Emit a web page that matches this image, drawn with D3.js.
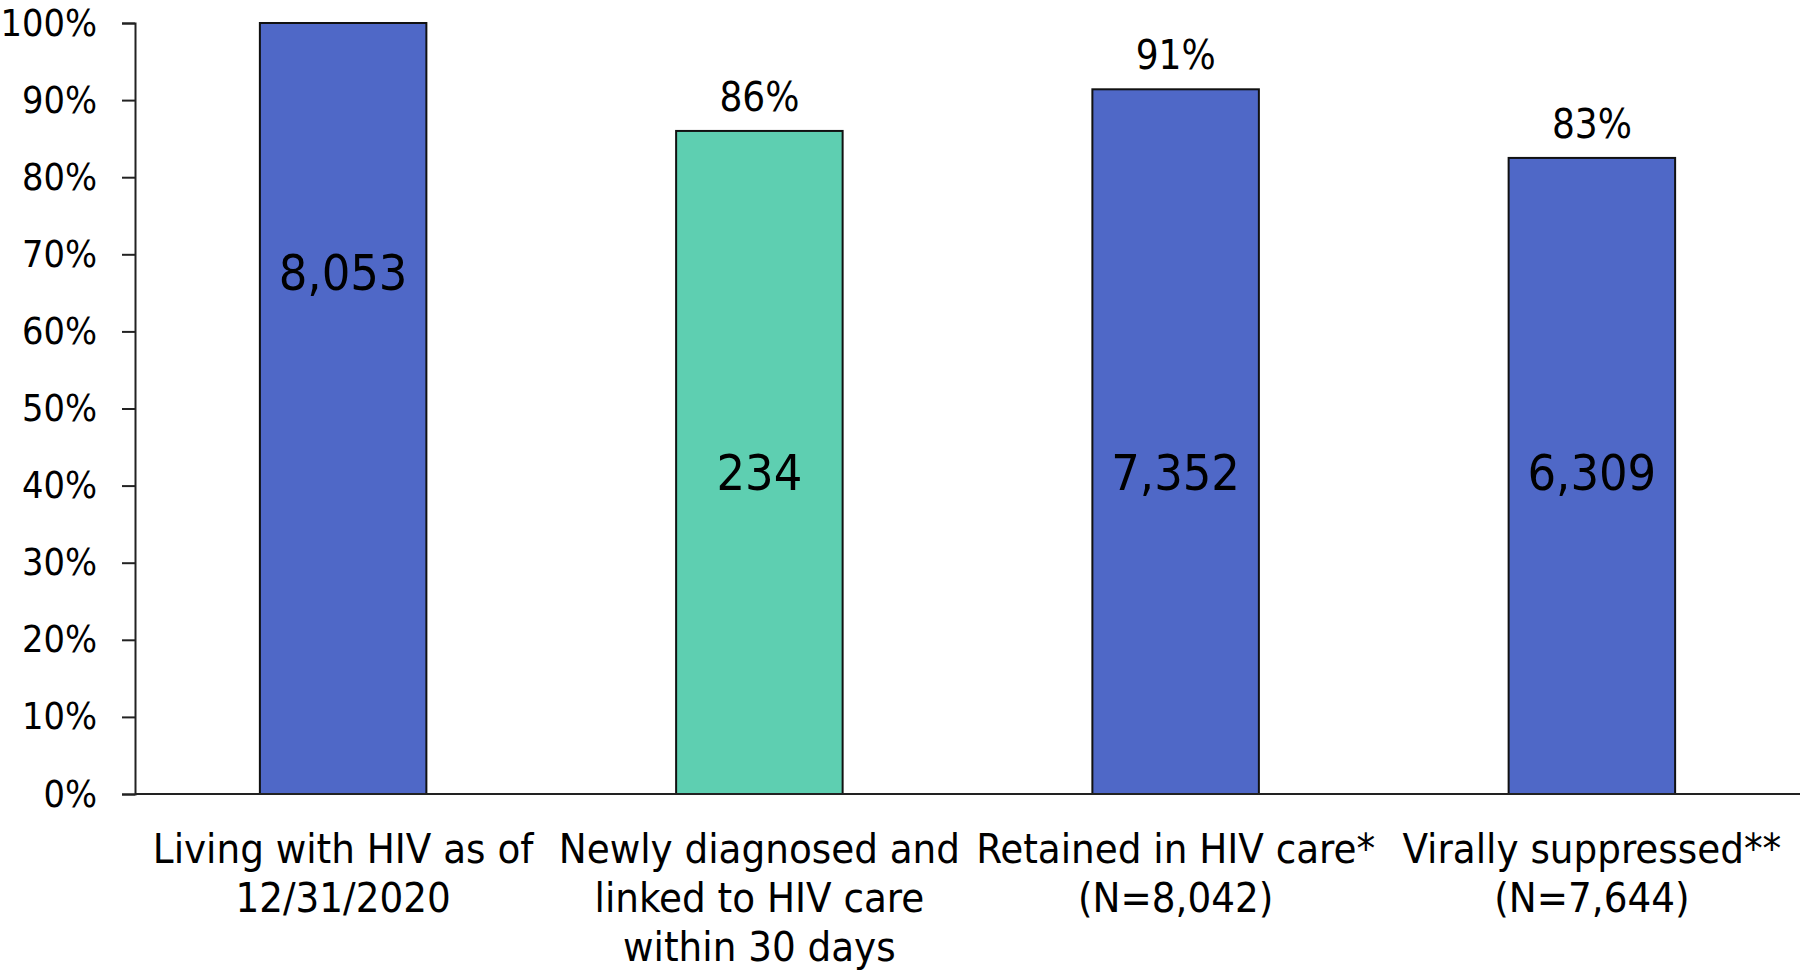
<!DOCTYPE html>
<html>
<head>
<meta charset="utf-8">
<script src="https://cdn.jsdelivr.net/npm/d3@7"></script>
<style>
  html, body { margin: 0; padding: 0; background: #ffffff; }
  svg { display: block; font-family: "DejaVu Sans Condensed", "DejaVu Sans", sans-serif; }
</style>
</head>
<body>
<svg id="chart" width="1800" height="972"></svg>
<script>
// ---- data ----
const categories = ["living", "linked", "retained", "suppressed"];
const categoryLabels = [
  ["Living with HIV as of", "12/31/2020"],
  ["Newly diagnosed and", "linked to HIV care", "within 30 days"],
  ["Retained in HIV care*", "(N=8,042)"],
  ["Virally suppressed**", "(N=7,644)"]
];
const percentValues = [1.00, 0.86, 0.914, 0.825];
const percentLabels = ["", "86%", "91%", "83%"];
const countLabels = ["8,053", "234", "7,352", "6,309"];
const barColors = ["#4F68C7", "#5ECFB1", "#4F68C7", "#4F68C7"];
const yTicks = [0, 0.1, 0.2, 0.3, 0.4, 0.5, 0.6, 0.7, 0.8, 0.9, 1.0];

// ---- layout ----
const svg = d3.select("#chart");
const mLeft = 135, mRight = 1800, mTop = 23, mBottom = 794;

const x = d3.scaleBand().domain(categories).range([mLeft, mRight])
  .paddingInner(0.6).paddingOuter(0.3);
const y = d3.scaleLinear().domain([0, 1]).range([mBottom, mTop]);

// bars
svg.append("g").selectAll("rect").data(categories).join("rect")
  .attr("x", d => x(d))
  .attr("y", (d, i) => y(percentValues[i]))
  .attr("width", x.bandwidth())
  .attr("height", (d, i) => y(0) - y(percentValues[i]))
  .attr("fill", (d, i) => barColors[i])
  .attr("stroke", "#111")
  .attr("stroke-width", 2);

// y axis
const yAxis = d3.axisLeft(y).tickValues(yTicks).tickSize(13).tickPadding(25)
  .tickFormat(d3.format(".0%"));
const gy = svg.append("g").attr("transform", `translate(${mLeft},0)`).call(yAxis);
gy.select(".domain").attr("stroke", "#222").attr("stroke-width", 2);
gy.selectAll(".tick line").attr("stroke", "#222").attr("stroke-width", 2);
gy.selectAll(".tick text").attr("font-size", 37.5).attr("fill", "#000")
  .attr("font-family", "DejaVu Sans Condensed, DejaVu Sans, sans-serif");

// x baseline
svg.append("line").attr("x1", mLeft).attr("x2", mRight)
  .attr("y1", y(0)).attr("y2", y(0))
  .attr("stroke", "#222").attr("stroke-width", 2);

// percent labels above bars
svg.append("g").selectAll("text").data(categories).join("text")
  .attr("x", d => x(d) + x.bandwidth() / 2)
  .attr("y", (d, i) => y(percentValues[i]) - 20)
  .attr("text-anchor", "middle")
  .attr("font-size", 40)
  .attr("fill", "#000")
  .text((d, i) => percentLabels[i]);

// count labels inside bars
svg.append("g").selectAll("text").data(categories).join("text")
  .attr("x", d => x(d) + x.bandwidth() / 2)
  .attr("y", (d, i) => (i === 0 ? y(0.677) : y(0.418)))
  .attr("dy", "0.36em")
  .attr("text-anchor", "middle")
  .attr("font-size", 50)
  .attr("fill", "#000")
  .text((d, i) => countLabels[i]);

// category labels
const cl = svg.append("g").selectAll("text").data(categories).join("text")
  .attr("x", d => x(d) + x.bandwidth() / 2)
  .attr("y", 848)
  .attr("text-anchor", "middle")
  .attr("font-size", 41.5)
  .attr("fill", "#000");
cl.selectAll("tspan").data((d, i) => categoryLabels[i]).join("tspan")
  .attr("x", function () { return d3.select(this.parentNode).attr("x"); })
  .attr("dy", (d, j) => j === 0 ? "0.36em" : "49px")
  .text(d => d);
</script>
</body>
</html>
